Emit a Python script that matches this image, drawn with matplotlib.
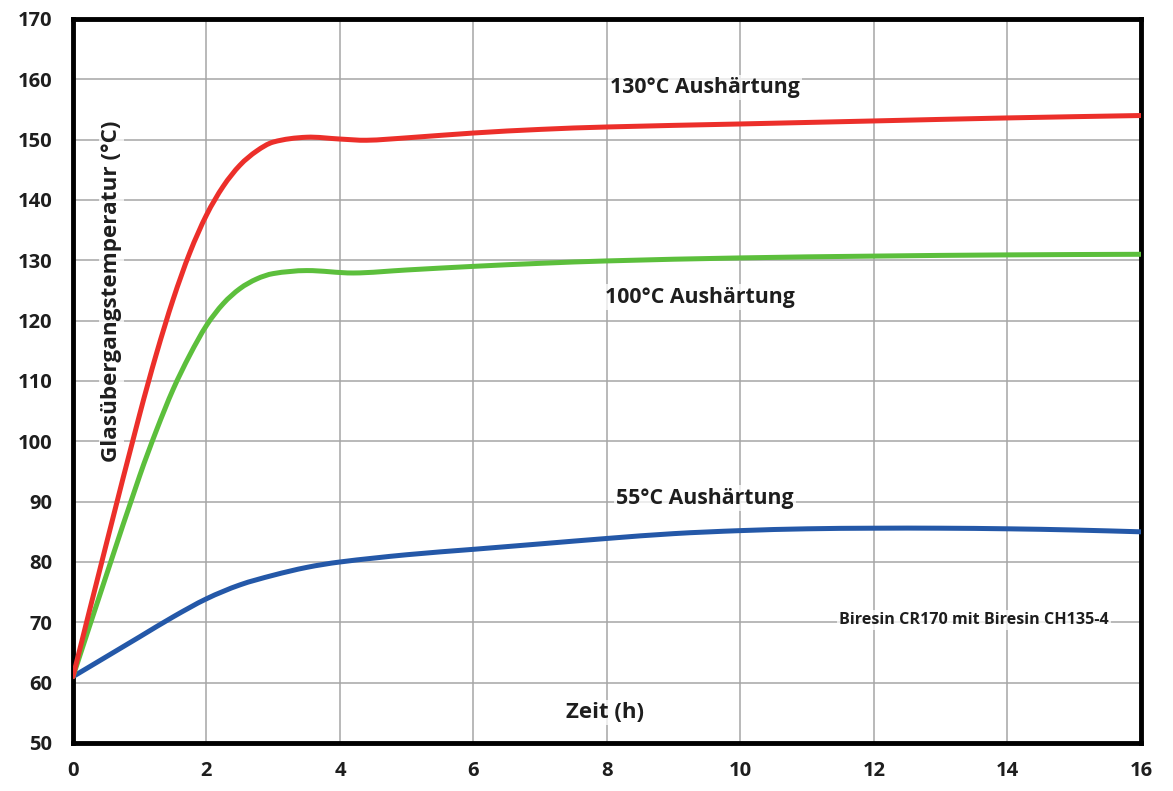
import matplotlib
matplotlib.use("Agg")
import matplotlib.pyplot as plt
from matplotlib.path import Path
from matplotlib.patches import PathPatch

# Glasübergangstemperatur über der Aushärtezeit
zeit_130 = [0, 0.5, 1, 1.25, 1.5, 1.75, 2, 2.25, 2.5, 2.75, 3, 3.5, 4, 4.4, 5, 6, 7, 8, 10, 12, 14, 16]
tg_130 = [61, 83, 104.5, 114.5, 123.5, 131.25, 137.5, 142.25, 145.75, 148.1, 149.6, 150.4, 150.1, 149.9, 150.3, 151.1, 151.7, 152.1, 152.6, 153.1, 153.6, 154]

zeit_100 = [0, 0.5, 1, 1.25, 1.5, 1.75, 2, 2.25, 2.5, 2.75, 3, 3.5, 4.2, 5, 6, 7, 8, 10, 12, 14, 16]
tg_100 = [61, 77.8, 94.3, 101.8, 108.6, 114.3, 119.2, 122.8, 125.3, 126.9, 127.8, 128.3, 127.9, 128.4, 129, 129.5, 129.9, 130.4, 130.7, 130.9, 131]

zeit_55 = [0, 0.5, 1, 1.5, 2, 2.5, 3, 3.5, 4, 5, 6, 7, 8, 9, 10, 11, 12, 13, 14, 15, 16]
tg_55 = [61, 64.3, 67.6, 70.9, 73.9, 76.2, 77.8, 79.1, 80, 81.2, 82.1, 83, 83.9, 84.7, 85.2, 85.5, 85.6, 85.6, 85.5, 85.3, 85]

x_ticks = list(range(0, 17, 2))
y_ticks = list(range(50, 171, 10))


def smooth_line(ax, xs, ys, color):
    # geglättete Linie: kubische Hermite-Segmente als Bezier-Kurven
    n = len(xs)
    slopes = []
    for i in range(n):
        a = max(i - 1, 0)
        b = min(i + 1, n - 1)
        slopes.append((ys[b] - ys[a]) / (xs[b] - xs[a]))
    verts = [(xs[0], ys[0])]
    codes = [Path.MOVETO]
    for i in range(n - 1):
        h = xs[i + 1] - xs[i]
        verts += [(xs[i] + h / 3, ys[i] + slopes[i] * h / 3),
                  (xs[i + 1] - h / 3, ys[i + 1] - slopes[i + 1] * h / 3),
                  (xs[i + 1], ys[i + 1])]
        codes += [Path.CURVE4] * 3
    ax.add_patch(PathPatch(Path(verts, codes), facecolor='none', edgecolor=color,
                           lw=3.6, capstyle='round', zorder=3))


plt.rcParams['font.family'] = ['Open Sans', 'DejaVu Sans']
plt.rcParams['font.weight'] = 'bold'

fig = plt.figure(figsize=(11.73, 7.91), dpi=100)
ax = fig.add_axes([0.0622, 0.0607, 0.9105, 0.9153])

smooth_line(ax, zeit_55, tg_55, '#2458a8')
smooth_line(ax, zeit_100, tg_100, '#5cbf3c')
smooth_line(ax, zeit_130, tg_130, '#ec2f2a')

ax.set_xlim(0, 16)
ax.set_ylim(50, 170)
ax.set_xticks(x_ticks)
ax.set_yticks(y_ticks)
ax.grid(True, color='#a6a6a6', lw=1.1)
ax.set_axisbelow(True)
ax.tick_params(length=0, labelsize=14.5, pad=13)
ax.tick_params(axis='y', pad=15)
for lab in ax.get_xticklabels() + ax.get_yticklabels():
    lab.set_fontweight('bold')
    lab.set_color('#1e1e1e')
for s in ax.spines.values():
    s.set_linewidth(3.5)
    s.set_color('black')

box = dict(facecolor='white', edgecolor='none', alpha=0.75, pad=1.5)
txt = dict(fontweight='bold', color='#1e1e1e', ha='center', va='center', zorder=5)
ax.text(9.47, 158.6, '130°C Aushärtung', fontsize=15.3, bbox=box, **txt)
ax.text(9.39, 123.9, '100°C Aushärtung', fontsize=15.3, bbox=box, **txt)
ax.text(9.47, 90.6, '55°C Aushärtung', fontsize=15.3, bbox=box, **txt)
ax.text(7.97, 55.1, 'Zeit (h)', fontsize=16, bbox=box, **txt)
ax.text(13.5, 70.4, 'Biresin CR170 mit Biresin CH135-4', fontsize=11.6, bbox=box, **txt)
ax.text(0.58, 124.8, 'Glasübergangstemperatur (°C)', rotation=90, fontsize=16.2, bbox=box, **txt)

fig.savefig('out.png', dpi=100)
